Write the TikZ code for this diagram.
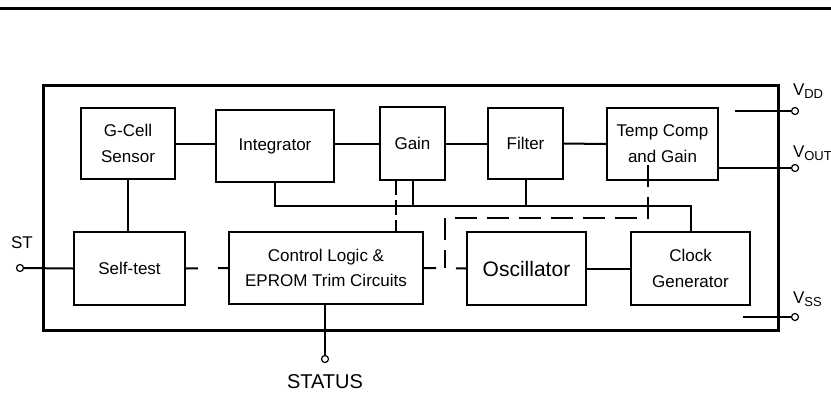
\documentclass[tikz,border=0pt]{standalone}
\usepackage{fontspec}
\setmainfont{Liberation Sans}
\newcommand{\pinsub}[1]{\raisebox{-0.35ex}{\fontsize{13}{13}\selectfont #1}}
\begin{document}
\begin{tikzpicture}[x=1pt, y=-1pt, line width=2pt,
  block/.style={draw, rectangle, align=center, inner sep=0pt, font=\fontsize{17}{26}\selectfont},
  term/.style={draw, circle, fill=white, inner sep=0pt, minimum size=7pt, line width=1.2pt},
  lbl/.style={inner sep=0pt, font=\fontsize{17}{17}\selectfont},
  ctl/.style={dash pattern=on 12pt off 20pt}]
\useasboundingbox (0,0) rectangle (831,392);
\draw[line width=3pt] (0,8.5) -- (831,8.5);
\draw[line width=3pt] (43,85) rectangle (778,330);
% upper row
\node[block, minimum width=94pt, minimum height=71pt] (gcell) at (128,143.5) {G-Cell\\Sensor};
\node[block, minimum width=118pt, minimum height=72pt] (integ) at (275,146) {Integrator};
\node[block, minimum width=65pt, minimum height=73pt] (gain) at (412.5,143.5) {Gain};
\node[block, minimum width=75pt, minimum height=71pt] (filter) at (525.5,143.5) {Filter};
\node[block, minimum width=111pt, minimum height=72pt] (temp) at (662.5,144) {Temp Comp\\and Gain};
% lower row
\node[block, minimum width=111pt, minimum height=73pt] (selftest) at (129.5,268.5) {Self-test};
\node[block, minimum width=194pt, minimum height=72pt, font=\fontsize{17}{25}\selectfont] (ctrl) at (326,268) {Control Logic \&\\EPROM Trim Circuits};
\node[block, minimum width=119pt, minimum height=73pt, font=\fontsize{21}{25}\selectfont] (osc) at (526.5,268.5) {Oscillator};
\node[block, minimum width=119pt, minimum height=73pt] (clk) at (690.5,268.5) {Clock\\Generator};
% pins
\node[term] (stpin) at (20,268) {};
\node[lbl, anchor=base west] (stlbl) at (10,248) {ST};
\node[term] (vddpin) at (795,111) {};
\node[lbl, anchor=base west] (vddlbl) at (792,95) {V\pinsub{DD}};
\node[term] (voutpin) at (795,168) {};
\node[lbl, anchor=base west] (voutlbl) at (792,157) {V\pinsub{OUT}};
\node[term] (vsspin) at (795,317) {};
\node[lbl, anchor=base west] (vsslbl) at (792,303) {V\pinsub{SS}};
\node[term] (statuspin) at (325,359) {};
\node[lbl, anchor=base, font=\fontsize{20}{20}\selectfont] (statuslbl) at (325,388) {STATUS};
\coordinate (vddin) at (735,111);
\coordinate (vssin) at (743,317);
\coordinate (busR) at (690.5,206);
\coordinate (gdash) at (396,180);
\coordinate (tdash) at (648,165);
\coordinate (dcorner) at (445,218);
\coordinate (dend) at (445,268);
% signal path
\draw (gcell.east) -- (gcell.east -| integ.west);
\draw (integ.east |- gain.west) -- (gain.west);
\draw (gain.east) -- (filter.west);
\draw (filter.east) -- (temp.west);
\draw (gcell.south) -- (gcell.south |- selftest.north);
\draw (stpin) -- (selftest.west);
\draw (osc.east) -- (clk.west);
\draw (voutpin -| temp.east) -- (voutpin);
\draw (vddin) -- (vddpin);
\draw (vssin) -- (vsspin);
\draw (ctrl.south -| statuspin) -- (statuspin);
% clock bus
\draw (integ.south) |- (busR) -- (clk.north);
\draw (gain.south) -- (gain.south |- busR);
\draw (filter.south) -- (filter.south |- busR);
% trim lines
\draw[ctl] (selftest.east) -- (ctrl.west);
\draw[ctl] (ctrl.east) -- (osc.west);
\draw[dash pattern=on 15pt off 5pt] (gdash) -- (gdash |- ctrl.north);
\draw[dash pattern=on 22pt off 10pt] (tdash) |- (dcorner) -- (dend);
\end{tikzpicture}
\end{document}
